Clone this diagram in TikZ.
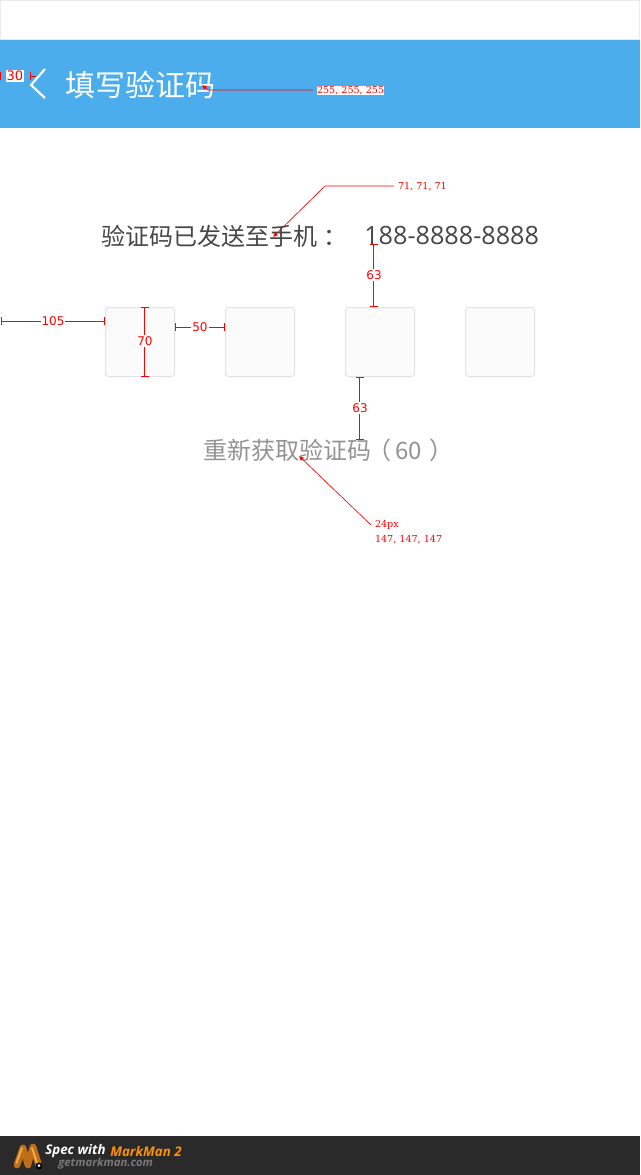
\documentclass[tikz,border=0pt]{standalone}
\usepackage{fontspec}
\usepackage{xcolor}
\usetikzlibrary{arrows.meta}
\newfontfamily\cjk{Noto Sans CJK SC}
\newfontfamily\digitfont{Open Sans}
\newfontfamily\dimfont{DejaVu Sans}
\newfontfamily\notefont{DejaVu Serif}
\definecolor{barblue}{RGB}{75,173,236}
\definecolor{darktext}{RGB}{71,71,71}
\definecolor{greytext}{RGB}{147,147,147}
\definecolor{specred}{RGB}{255,0,0}
\definecolor{footgrey}{RGB}{42,42,42}
\definecolor{logoorange}{RGB}{190,110,25}
\definecolor{logolight}{RGB}{240,170,70}
\tikzset{
  codebox/.style={draw={rgb,255:red,227;green,227;blue,227},fill={rgb,255:red,251;green,251;blue,251},line width=0.75pt,rounded corners=2.25pt,minimum size=51.75pt,inner sep=0pt,anchor=north west},
  dimline/.style={draw=specred,line width=0.75pt,{Bar[width=6pt,line width=0.75pt]}-{Bar[width=6pt,line width=0.75pt]}},
  dimlabel/.style={text=specred,fill=white,inner sep=0.75pt,font=\dimfont\fontsize{9pt}{10pt}\selectfont},
  notelabel/.style={text=specred,inner sep=0pt,outer sep=3pt,anchor=west,font=\notefont\fontsize{7.2pt}{9pt}\selectfont},
  pointer/.style={draw=specred,line width=0.5pt,{Latex[length=3.5pt,width=3.5pt]}-},
  logotube/.style={logoorange,line width=5pt,line cap=round,line join=round},
  logoshine/.style={logolight,line width=1.5pt,line cap=round,line join=round}
}
\begin{document}
\begin{tikzpicture}[x=0.75pt,y=0.75pt,yscale=-1,xscale=1]
\useasboundingbox (0,0) rectangle (640,1175);
\fill [white] (0,0) rectangle (640,1175);

%Shape: Status strip
\draw [draw={rgb,255:red,235;green,235;blue,235},line width=0.75pt] (0.5,0.5) rectangle (639.5,39.5);
%Shape: Title bar
\fill [barblue] (0,40) rectangle (640,128);
%Shape: Back chevron
\draw [white,line width=1.6pt] (45,69) -- (31,85) -- (45,98);

% Text Node
\node (title) at (65,85) [anchor=west,inner sep=0pt,text=white,font=\cjk\fontsize{22.5pt}{24pt}\selectfont] {填写验证码};
% Text Node
\node (sent) at (101,236) [anchor=west,inner sep=0pt,text=darktext,font=\cjk\fontsize{18pt}{20pt}\selectfont] {验证码已发送至手机\kern4.5pt：};
% Text Node
\node (phone) at (364,235) [anchor=west,inner sep=0pt,text=darktext,font=\digitfont\fontsize{18.9pt}{20pt}\selectfont] {188-8888-8888};
% Text Node
\node (resend) at (203,450) [anchor=west,inner sep=0pt,text=greytext,font=\cjk\fontsize{18pt}{20pt}\selectfont] {重新获取验证码\kern-3pt（\kern3pt 60\kern6pt）};

%Shape: Code boxes
\node (boxa) at (105,307) [codebox] {};
\node (boxb) at (225,307) [codebox] {};
\node (boxc) at (345,307) [codebox] {};
\node (boxd) at (465,307) [codebox] {};

%Dimension ends
\coordinate (edgeback) at (0.5,72);
\coordinate (edgebacklow) at (0.5,80);
\coordinate (chevtick) at (30,72);
\coordinate (chevticklow) at (30,80);
\coordinate (chevtip) at (30,76);
\coordinate (chevstub) at (36,76);
\coordinate (edgebox) at (0.5,321);
\coordinate (gapa) at (175,327);
\coordinate (gapb) at (225,327);
\coordinate (heighttop) at (144.5,307);
\coordinate (heightbot) at (144.5,377);
\coordinate (phonebot) at (373.5,244);
\coordinate (boxctop) at (373.5,307);
\coordinate (boxcbot) at (359.5,377);
\coordinate (resendtop) at (359.5,440);

%Dimension lines
\draw [specred,line width=0.75pt] (edgeback) -- (edgebacklow);
\draw [specred,line width=0.75pt] (chevtick) -- (chevticklow);
\draw [specred,line width=0.75pt] (chevtip) -- (chevstub);
\draw [dimline] (edgebox) -- (edgebox -| boxa.west);
\draw [dimline] (gapa) -- (gapb);
\draw [dimline] (heighttop) -- (heightbot);
\draw [dimline] (phonebot) -- (boxctop);
\draw [dimline] (boxcbot) -- (resendtop);

% Text Node
\node (dimback) at (15,76) [dimlabel,font=\dimfont\fontsize{9.8pt}{10pt}\selectfont] {30};
% Text Node
\node (dimedge) at (53,321) [dimlabel] {105};
% Text Node
\node (dimgap) at (200,327) [dimlabel] {50};
% Text Node
\node (dimheight) at (145,341) [dimlabel,fill={rgb,255:red,251;green,251;blue,251}] {70};
% Text Node
\node (dimupper) at (374,275) [dimlabel] {63};
% Text Node
\node (dimlower) at (360,408) [dimlabel] {63};

% Text Node
\node (notewhite) at (313,90.5) [notelabel,fill=white] {255, 255, 255};
% Text Node
\node (notedark) at (394,187) [notelabel] {71, 71, 71};
% Text Node
\node (notesize) at (371,525) [notelabel] {24px};
% Text Node
\node (notegrey) at (371,540) [notelabel] {147, 147, 147};

%Pointer targets
\coordinate (titlept) at (202,85);
\coordinate (sentpt) at (273,237);
\coordinate (resendpt) at (299,456);
\coordinate (bendwhite) at (208,90);
\coordinate (benddark) at (325,186);

%Pointers
\draw [pointer] (titlept) -- (bendwhite) -- (bendwhite -| notewhite.west);
\draw [pointer] (sentpt) -- (benddark) -- (benddark -| notedark.west);
\draw [pointer] (resendpt) -- (notesize.west);

%Shape: Footer
\fill [footgrey] (0,1136) rectangle (640,1175);
%Shape: Logo
\draw [logotube] (17,1165) -- (23,1148);
\draw [logotube] (23,1148) -- (28,1165);
\draw [logotube] (28,1164) -- (33,1147) -- (39,1166);
\draw [logoshine] (16.5,1163) -- (22,1148);
\draw [logoshine] (32,1148) -- (37,1163);
\fill [black] (39,1166) circle (3.5);
\fill [white] (39,1165.5) circle (1.5);

% Text Node
\node (specwith) at (45,1151) [anchor=west,inner sep=0pt,text=white,font=\digitfont\bfseries\itshape\fontsize{10pt}{11pt}\selectfont] {Spec with};
% Text Node
\node (specname) at (110,1151) [anchor=west,inner sep=0pt,text={rgb,255:red,255;green,145;blue,0},font=\digitfont\bfseries\itshape\fontsize{10pt}{11pt}\selectfont] {MarkMan 2};
% Text Node
\node (specurl) at (58,1164) [anchor=west,inner sep=0pt,text={rgb,255:red,120;green,120;blue,120},font=\digitfont\bfseries\itshape\fontsize{8.5pt}{10pt}\selectfont] {getmarkman.com};

\end{tikzpicture}
\end{document}
